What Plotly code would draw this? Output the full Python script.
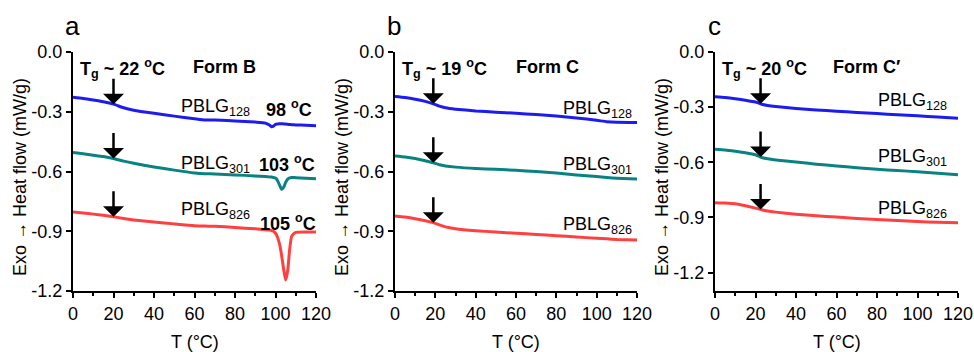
import numpy as np
import plotly.graph_objects as go

# ---------------- data ----------------
# Panel a: Form B
T_A = [0, 5, 10, 15, 20, 25, 30, 40, 50, 60, 65, 70, 80, 90, 95, 97, 98, 99, 100,
       101, 102, 103, 104, 105, 106, 107, 108, 110, 115, 120]
A_128 = [-0.227, -0.233, -0.241, -0.250, -0.262, -0.280, -0.292, -0.308, -0.322, -0.335,
         -0.341, -0.341, -0.346, -0.352, -0.357, -0.367, -0.375, -0.372, -0.363,
         -0.361, -0.360, -0.360, -0.361, -0.362, -0.363, -0.364, -0.365, -0.366, -0.368, -0.370]
A_301 = [-0.505, -0.511, -0.518, -0.525, -0.535, -0.548, -0.559, -0.577, -0.593, -0.607,
         -0.611, -0.612, -0.617, -0.622, -0.625, -0.627, -0.628, -0.630, -0.633,
         -0.645, -0.668, -0.689, -0.680, -0.655, -0.638, -0.632, -0.630, -0.631, -0.634, -0.637]
A_826 = [-0.803, -0.808, -0.814, -0.820, -0.827, -0.836, -0.843, -0.853, -0.863, -0.872,
         -0.874, -0.875, -0.881, -0.888, -0.892, -0.894, -0.896, -0.900, -0.910,
         -0.930, -0.965, -1.020, -1.090, -1.145, -1.100, -0.990, -0.925, -0.906, -0.904, -0.904]

# Panel b: Form C
T_B = [0, 5, 10, 15, 19, 22, 25, 30, 40, 50, 60, 70, 80, 90, 100, 105, 110, 120]
B_128 = [-0.224, -0.229, -0.237, -0.248, -0.260, -0.272, -0.280, -0.287, -0.296, -0.302,
         -0.308, -0.314, -0.321, -0.331, -0.343, -0.350, -0.353, -0.354]
B_301 = [-0.522, -0.527, -0.535, -0.546, -0.556, -0.566, -0.572, -0.578, -0.585, -0.589,
         -0.594, -0.600, -0.608, -0.617, -0.625, -0.630, -0.634, -0.638]
B_826 = [-0.823, -0.829, -0.837, -0.847, -0.857, -0.868, -0.878, -0.887, -0.897, -0.904,
         -0.910, -0.916, -0.922, -0.929, -0.935, -0.938, -0.941, -0.944]

# Panel c: Form C'
T_C = [0, 5, 10, 15, 20, 23, 26, 30, 40, 50, 60, 70, 80, 90, 100, 110, 120]
C_128 = [-0.244, -0.248, -0.254, -0.262, -0.272, -0.284, -0.291, -0.297, -0.307, -0.315,
         -0.322, -0.329, -0.335, -0.341, -0.347, -0.354, -0.360]
C_301 = [-0.529, -0.533, -0.540, -0.548, -0.559, -0.574, -0.581, -0.587, -0.598, -0.610,
         -0.620, -0.629, -0.638, -0.645, -0.651, -0.659, -0.668]
C_826 = [-0.820, -0.822, -0.826, -0.836, -0.849, -0.858, -0.865, -0.871, -0.882, -0.891,
         -0.898, -0.905, -0.911, -0.917, -0.922, -0.926, -0.929]

PANEL_LETTERS = ["a", "b", "c"]
FORMS = ["Form B", "Form C", "Form C\u2032"]
TG_LABELS = [22, 19, 20]
TG_ARROW_T = [20, 19, 22.5]
MELT_LABELS = [98, 103, 105]
SAMPLES = ["128", "301", "826"]
Y_TICKS = [0.0, -0.3, -0.6, -0.9, -1.2]
Y_TICKTEXT = ["0.0", "-0.3", "-0.6", "-0.9", "-1.2"]
X_TICKS = [0, 20, 40, 60, 80, 100, 120]

COLORS = ["#1c1cf0", "#0a8282", "#ff4040"]
FONT = "Arial, Liberation Sans, sans-serif"

panels = [
    (T_A, [A_128, A_301, A_826], [-1.2, 0]),
    (T_B, [B_128, B_301, B_826], [-1.2, 0]),
    (T_C, [C_128, C_301, C_826], [-1.3, 0]),
]

W, H = 974, 352
x_dom_px = [(73, 316), (395, 637), (715, 958)]
y_dom_px = (52, 291)

fig = go.Figure()
layout = dict(
    template="none",
    width=W, height=H, margin=dict(l=0, r=0, t=0, b=0, pad=0, autoexpand=False),
    paper_bgcolor="white", plot_bgcolor="white", showlegend=False,
    font=dict(family=FONT, size=18, color="black"),
)
annotations = []

for i, (T, series, yr) in enumerate(panels):
    sfx = "" if i == 0 else str(i + 1)
    xa, ya = "x" + sfx, "y" + sfx
    for vals, col in zip(series, COLORS):
        fig.add_trace(go.Scatter(x=T, y=vals, mode="lines", xaxis=xa, yaxis=ya,
                                 line=dict(color=col, width=3, shape="spline", smoothing=0.5),
                                 hoverinfo="skip"))
    x0, x1 = x_dom_px[i]
    layout["xaxis" + sfx] = dict(
        domain=[x0 / W, x1 / W], anchor=ya, range=[0, 120], automargin=False,
        tickvals=X_TICKS, ticks="outside", ticklen=5, tickwidth=2, tickcolor="black",
        minor=dict(dtick=10, tick0=0, ticks="outside", ticklen=3, tickwidth=2, tickcolor="black"),
        showline=True, linewidth=2, linecolor="black", showgrid=False, zeroline=False,
        tickfont=dict(size=18), fixedrange=True,
    )
    layout["yaxis" + sfx] = dict(
        domain=[1 - y_dom_px[1] / H, 1 - y_dom_px[0] / H], anchor=xa, range=yr,
        automargin=False,
        tickvals=Y_TICKS, ticktext=Y_TICKTEXT, ticks="outside", ticklen=5, tickwidth=2,
        tickcolor="black", showline=True, linewidth=2, linecolor="black",
        showgrid=False, zeroline=False, tickfont=dict(size=18), fixedrange=True,
    )

    # axis titles
    annotations.append(dict(text="Exo \u2192 Heat flow (mW/g)", xref="paper", yref="paper",
                            x=(x0 - 53) / W, y=1 - 177 / H, textangle=-90, showarrow=False,
                            xanchor="center", yanchor="middle", font=dict(size=18)))
    annotations.append(dict(text="T (\u00b0C)", xref="paper", yref="paper",
                            x=(x0 + x1) / 2 / W, y=1 - 342 / H, showarrow=False,
                            xanchor="center", yanchor="middle", font=dict(size=18)))
    # panel letter
    annotations.append(dict(text=PANEL_LETTERS[i], xref="paper", yref="paper",
                            x=(x0 - 1) / W, y=1 - 26 / H, showarrow=False,
                            xanchor="center", yanchor="middle", font=dict(size=26)))

    def vy(py, yr=yr):
        return yr[0] + (y_dom_px[1] - py) / (y_dom_px[1] - y_dom_px[0]) * (yr[1] - yr[0])

    def vx(px, x0=x0, x1=x1):
        return (px - x0) / (x1 - x0) * 120

    # Tg label and form label
    annotations.append(dict(text="<b>T<sub>g</sub> ~ %d <sup>o</sup>C</b>" % TG_LABELS[i],
                            xref=xa, yref=ya, x=vx(x0 + 5), y=vy(68), showarrow=False,
                            xanchor="left", yanchor="middle", font=dict(size=18)))
    annotations.append(dict(text="<b>%s</b>" % FORMS[i], xref=xa, yref=ya,
                            x=vx([191, 514, 831][i]), y=vy(67), showarrow=False,
                            xanchor="left", yanchor="middle", font=dict(size=18)))

    # sample labels
    if i == 0:
        lab_px = [(179, 107), (179, 164), (179, 210)]
        anchor = "left"
    elif i == 1:
        lab_px = [(634, 109), (634, 165), (634, 225)]
        anchor = "right"
    else:
        lab_px = [(949, 101), (949, 157), (949, 209)]
        anchor = "right"
    for s, (px, py) in zip(SAMPLES, lab_px):
        annotations.append(dict(text="PBLG<sub>%s</sub>" % s, xref=xa, yref=ya,
                                x=vx(px), y=vy(py), showarrow=False,
                                xanchor=anchor, yanchor="middle", font=dict(size=18)))
    if i == 0:
        for m, (px, py) in zip(MELT_LABELS, [(264, 108), (257, 163), (258, 222)]):
            annotations.append(dict(text="<b>%d <sup>o</sup>C</b>" % m, xref=xa, yref=ya,
                                    x=vx(px), y=vy(py), showarrow=False,
                                    xanchor="left", yanchor="middle", font=dict(size=18)))

    # Tg arrows pointing at each curve
    for vals in series:
        tip = float(np.interp(TG_ARROW_T[i], T, vals))
        annotations.append(dict(text="", xref=xa, yref=ya, x=TG_ARROW_T[i], y=tip,
                                ax=0, ay=-27, axref="pixel", ayref="pixel",
                                showarrow=True, arrowhead=1, arrowsize=1.4, arrowwidth=2.5,
                                arrowcolor="black", standoff=0))

layout["annotations"] = annotations
fig.update_layout(**layout)
fig.write_html("out.html")
